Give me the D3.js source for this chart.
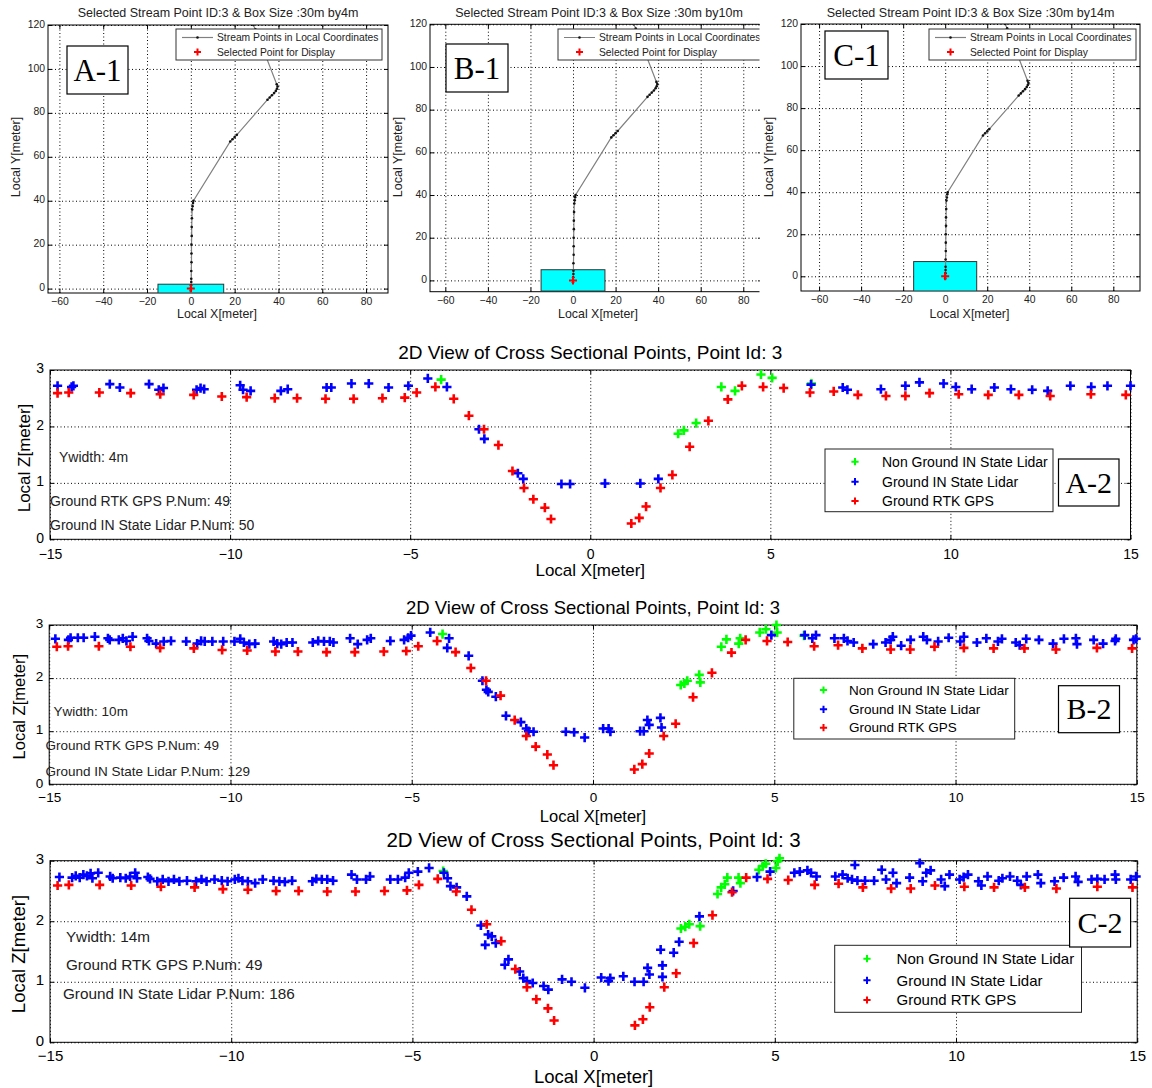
<!DOCTYPE html>
<html>
<head>
<meta charset="utf-8">
<script src="https://cdnjs.cloudflare.com/ajax/libs/d3/7.8.5/d3.min.js"></script>
<style>
  body { margin: 0; background: #fff; }
  svg { display: block; }
</style>
</head>
<body>
<svg id="fig" width="1152" height="1088"></svg>
<script>
// ---------- top row: stream points in local coordinates ----------
const streamX = [0, 0, 0.1, 0.2, 0.2, 0.2, 0.3, 0.3, 0.3, 0.4, 0.4, 0.5, 0.6, 0.8, 1.0, 1.2, 18, 19, 20, 21, 35, 36, 37, 38, 38.8, 39.3, 39.6, 39.2, 29.5, 28.5, 27.8];
const streamY = [-1, 0, 1.5, 3, 4.5, 8, 12, 16, 20, 24, 28, 32, 36, 37.5, 39, 40, 67, 68, 69, 70, 86, 87, 88, 89, 90, 91, 92, 93, 118, 120, 122];
const selectedPoint = [0, 0];
const boxLength = 30;
const boxWidths = [4, 10, 14];
const topXTicks = [-60, -40, -20, 0, 20, 40, 60, 80];
const topYTicks = [0, 20, 40, 60, 80, 100, 120];
const topLegend = ["Stream Points in Local Coordinates", "Selected Point for Display"];

// ---------- bottom rows: cross section points (x, z) ----------
const gpsPts = [[-14.79,2.59],[-14.48,2.60],[-13.63,2.60],[-12.76,2.59],[-11.94,2.57],[-11.01,2.56],[-10.23,2.53],[-9.54,2.52],[-8.76,2.50],[-8.14,2.50],[-7.35,2.49],[-6.57,2.49],[-5.77,2.50],[-5.15,2.51],[-4.82,2.60],[-4.30,2.70],[-3.79,2.49],[-3.37,2.19],[-2.95,1.95],[-2.55,1.67],[-2.16,1.21],[-1.84,0.91],[-1.58,0.71],[-1.26,0.56],[-1.09,0.36],
  [1.14,0.28],[1.36,0.38],[1.55,0.58],[1.95,0.91],[2.28,1.14],[2.76,1.64],[3.28,2.10],[3.82,2.48],[4.21,2.72],[4.80,2.70],[5.37,2.68],[6.10,2.60],[6.76,2.62],[7.43,2.56],[8.21,2.54],[8.75,2.54],[9.42,2.59],[10.23,2.57],[11.05,2.56],[11.90,2.56],[12.77,2.54],[13.90,2.57],[14.87,2.56]];

const lidarA = [[-14.79,2.72],[-14.40,2.70],[-14.35,2.72],[-13.34,2.75],[-13.06,2.69],[-12.25,2.75],[-11.98,2.65],[-11.85,2.68],[-10.93,2.65],[-10.82,2.68],[-10.72,2.66],[-9.72,2.73],[-9.64,2.65],[-9.43,2.63],[-8.59,2.63],[-8.40,2.66],[-7.32,2.69],[-7.19,2.69],[-6.63,2.76],[-6.15,2.76],[-5.60,2.69],[-5.05,2.72],[-4.51,2.85],[-3.98,2.70],[-3.09,1.95],[-2.94,1.78],[-2.01,1.17],[-1.86,1.07],[-0.80,0.98],[-0.56,0.98],[0.41,0.99],[1.39,0.99],[1.89,1.07],[6.13,2.74],[7.01,2.69],[7.14,2.65],[8.07,2.66],[8.75,2.72],[9.14,2.78],[9.81,2.76],[10.15,2.70],[10.59,2.66],[11.22,2.69],[11.68,2.66],[12.27,2.65],[12.70,2.63],[13.33,2.72],[13.91,2.70],[14.36,2.72],[15.0,2.72]];
const nonGroundA = [[-4.14,2.83],[2.44,1.87],[2.60,1.93],[2.94,2.06],[3.64,2.70],[4.02,2.63],[4.74,2.92],[5.05,2.86],[6.14,2.76]];

const lidarB = [[-14.83,2.74],[-14.47,2.72],[-14.41,2.76],[-14.21,2.76],[-14.05,2.76],[-13.74,2.78],[-13.38,2.75],[-13.33,2.72],[-13.08,2.72],[-12.97,2.75],[-12.87,2.70],[-12.70,2.78],[-12.30,2.75],[-12.25,2.70],[-12.05,2.65],[-11.84,2.69],[-11.64,2.70],[-11.22,2.69],[-10.92,2.65],[-10.81,2.70],[-10.71,2.69],[-10.50,2.69],[-10.20,2.69],[-9.89,2.69],[-9.73,2.74],[-9.63,2.67],[-9.48,2.64],[-9.32,2.65],[-8.81,2.69],[-8.71,2.65],[-8.60,2.64],[-8.45,2.67],[-8.29,2.67],[-7.73,2.67],[-7.58,2.70],[-7.42,2.69],[-7.26,2.69],[-7.16,2.67],[-6.70,2.75],[-6.49,2.64],[-6.23,2.72],[-6.13,2.75],[-5.59,2.70],[-5.21,2.72],[-5.10,2.76],[-5.02,2.80],[-4.49,2.86],[-3.97,2.75],[-4.02,2.57],[-3.43,2.42],[-3.05,1.95],[-2.94,1.78],[-2.89,1.74],[-2.68,1.65],[-2.40,1.29],[-1.99,1.17],[-1.84,1.05],[-1.78,1.00],[-1.64,0.99],[-0.75,0.99],[-0.52,0.98],[-0.23,0.88],[0.28,1.05],[0.48,0.99],[0.43,1.05],[1.30,1.00],[1.40,1.00],[1.50,1.21],[1.55,1.12],[1.86,1.25],[1.89,1.07],[4.92,2.81],[5.84,2.81],[6.05,2.75],[6.15,2.81],[6.66,2.75],[6.92,2.75],[7.02,2.70],[7.19,2.67],[7.73,2.64],[8.07,2.67],[8.21,2.72],[8.27,2.78],[8.50,2.61],[8.76,2.72],[9.11,2.78],[9.21,2.72],[9.52,2.69],[9.81,2.76],[10.13,2.69],[10.23,2.78],[10.59,2.67],[10.85,2.75],[11.17,2.69],[11.28,2.74],[11.66,2.67],[11.77,2.62],[11.95,2.74],[12.30,2.72],[12.69,2.65],[12.99,2.74],[13.32,2.75],[13.35,2.64],[13.81,2.72],[14.07,2.65],[14.40,2.70],[14.42,2.74],[14.91,2.72],[14.98,2.74]];
const nonGroundB = [[-4.15,2.83],[2.42,1.87],[2.52,1.90],[2.60,1.95],[2.93,2.06],[2.96,1.92],[3.54,2.59],[3.68,2.73],[4.02,2.65],[4.06,2.75],[4.60,2.86],[4.77,2.92],[5.06,3.0],[5.08,2.86],[5.82,2.80]];

const lidarC = [[-14.74,2.73],[-14.39,2.72],[-14.29,2.75],[-14.18,2.72],[-14.08,2.77],[-13.98,2.75],[-13.88,2.79],[-13.83,2.71],[-13.67,2.80],[-13.34,2.74],[-13.27,2.71],[-13.06,2.72],[-12.91,2.71],[-12.79,2.74],[-12.65,2.80],[-12.60,2.71],[-12.30,2.73],[-12.24,2.70],[-12.04,2.66],[-11.89,2.69],[-11.73,2.66],[-11.58,2.69],[-11.43,2.66],[-11.22,2.67],[-10.97,2.66],[-10.82,2.69],[-10.68,2.66],[-10.46,2.69],[-10.26,2.67],[-10.10,2.66],[-9.90,2.69],[-9.80,2.71],[-9.69,2.67],[-9.54,2.66],[-9.34,2.63],[-9.13,2.69],[-8.83,2.67],[-8.67,2.66],[-8.52,2.65],[-8.32,2.67],[-7.76,2.66],[-7.65,2.70],[-7.50,2.69],[-7.35,2.69],[-7.19,2.67],[-6.68,2.77],[-6.53,2.69],[-6.28,2.69],[-6.17,2.74],[-5.61,2.69],[-5.40,2.69],[-5.20,2.72],[-5.10,2.80],[-4.85,2.82],[-4.54,2.88],[-4.13,2.80],[-4.03,2.71],[-3.95,2.58],[-3.78,2.56],[-3.50,2.41],[-3.11,1.93],[-2.99,1.61],[-2.91,1.78],[-2.81,1.75],[-2.70,1.64],[-2.45,1.28],[-2.35,1.37],[-2.04,1.17],[-1.94,1.06],[-1.84,1.01],[-1.68,0.98],[-1.38,0.93],[-1.25,0.87],[-0.87,1.04],[-0.61,1.00],[-0.24,0.90],[0.21,1.07],[0.41,1.01],[0.46,1.06],[0.82,1.09],[1.13,1.00],[1.38,1.00],[1.49,1.23],[1.54,1.12],[1.85,1.53],[1.90,1.27],[1.90,1.08],[2.21,1.48],[2.36,1.66],[2.92,2.08],[3.85,2.50],[4.51,2.73],[4.87,2.82],[5.54,2.80],[5.69,2.82],[5.90,2.84],[6.00,2.80],[6.15,2.74],[6.67,2.74],[6.87,2.77],[7.01,2.71],[7.13,2.69],[7.21,2.93],[7.28,2.67],[7.49,2.67],[7.74,2.67],[7.95,2.85],[8.07,2.69],[8.26,2.80],[8.36,2.63],[8.72,2.72],[9.00,2.96],[9.08,2.66],[9.18,2.80],[9.30,2.84],[9.59,2.69],[9.69,2.58],[9.82,2.77],[10.10,2.69],[10.21,2.73],[10.33,2.77],[10.62,2.66],[10.70,2.59],[10.87,2.74],[11.18,2.67],[11.28,2.71],[11.49,2.74],[11.69,2.67],[11.79,2.60],[11.95,2.74],[12.26,2.77],[12.34,2.63],[12.72,2.66],[12.97,2.72],[13.30,2.74],[13.37,2.65],[13.74,2.69],[13.90,2.70],[14.10,2.69],[14.39,2.77],[14.41,2.69],[14.82,2.69],[14.97,2.74]];
const nonGroundC = [[-4.15,2.83],[2.41,1.88],[2.53,1.91],[2.64,1.95],[2.94,1.92],[3.42,2.45],[3.52,2.56],[3.62,2.61],[3.69,2.72],[4.00,2.72],[4.05,2.63],[4.56,2.85],[4.67,2.91],[4.75,2.95],[5.03,2.88],[5.08,2.99],[5.13,3.04]];

const gpsCount = 49;
const lidarCounts = [50, 129, 186];
const crossXTicks = [-15, -10, -5, 0, 5, 10, 15];
const crossYTicks = [0, 1, 2, 3];
const seriesNames = ["Non Ground IN State Lidar", "Ground IN State Lidar", "Ground RTK GPS"];
const seriesColors = ["#00ff00", "#0000ff", "#ff0000"];

// ---------- layout ----------
const FONT = "'Liberation Sans', Arial, Helvetica, sans-serif";
const SERIF = "'Liberation Serif', 'Times New Roman', serif";
const svg = d3.select("#fig");
svg.append("rect").attr("width", 1152).attr("height", 1088).attr("fill", "#fff");

const topLayout = [
  { tag: "A-1", x0: 48, x1: 388, y0: 25, y1: 293, xd: [-65.2, 90], yd: [-2, 120], cut: 1152, tagBox: [67, 46, 61, 48], leg: [176, 29, 206, 31], ylabX: 15 },
  { tag: "B-1", x0: 430, x1: 762, y0: 24.3, y1: 291.7, xd: [-67.2, 88.8], yd: [-5.3, 120], cut: 759.5, tagBox: [446, 44, 62, 48], leg: [558, 29, 215, 31], ylabX: 397 },
  { tag: "C-1", x0: 801, x1: 1140, y0: 24, y1: 291, xd: [-68.6, 92.7], yd: [-7, 120], cut: 1152, tagBox: [825, 31, 63, 48], leg: [929, 29, 207, 31], ylabX: 768 }
];

const crossLayout = [
  { tag: "A-2", series: [nonGroundA, lidarA, gpsPts], x0: 50, x1: 1130.5, y0: 370, y1: 539.3, titleY: 352, xlabY: 570, ylabX: 24, ylabY: 458,
    fs: { title: 19, label: 17, tick: 14, legend: 14, note: 14 }, pad: 9.5,
    notes: [[59, 457.3], [50, 500.7], [50, 525]], leg: [825, 449, 228, 62.7], legRows: [461.7, 481.7, 501], legMarkX: 855, legTextX: 882, tagBox: [1058.5, 459, 60.5, 47] },
  { tag: "B-2", series: [nonGroundB, lidarB, gpsPts], x0: 49.2, x1: 1136.8, y0: 625, y1: 784.3, titleY: 607.3, xlabY: 816.7, ylabX: 19, ylabY: 706.7,
    fs: { title: 18.5, label: 16.5, tick: 13.5, legend: 13.5, note: 13.5 }, pad: 8.5,
    notes: [[53.6, 711], [45.5, 745], [45.5, 771]], leg: [793.8, 678.3, 220.9, 60.7], legRows: [690, 709.3, 727.7], legMarkX: 823.5, legTextX: 849, tagBox: [1058.5, 685.7, 61, 47] },
  { tag: "C-2", series: [nonGroundC, lidarC, gpsPts], x0: 50, x1: 1137.2, y0: 860.7, y1: 1042.3, titleY: 840.3, xlabY: 1076.3, ylabX: 19, ylabY: 954,
    fs: { title: 20.5, label: 18.5, tick: 15, legend: 15, note: 15.3 }, pad: 8,
    notes: [[65.9, 936.3], [65.9, 964.7], [62.9, 993.7]], leg: [834.7, 945.3, 246.8, 67], legRows: [958.7, 980.3, 1000], legMarkX: 867, legTextX: 896.6, tagBox: [1069.6, 898.3, 61, 48.7] }
];

const plus = s => `M${-s},0H${s}M0,${-s}V${s}`;
const fmt = d3.format("d");

// dotted grid + inward ticks + labels + frame
function axes(g, x, y, L, xt, yt, fs, padX, padY, color) {
  const w = L.x1 - L.x0, h = L.y1 - L.y0;
  const gx = g.append("g").attr("transform", `translate(0,${L.y1})`)
    .call(d3.axisBottom(x).tickValues(xt).tickSize(-h).tickFormat(""));
  const gy = g.append("g").attr("transform", `translate(${L.x0},0)`)
    .call(d3.axisLeft(y).tickValues(yt).tickSize(-w).tickFormat(""));
  [gx, gy].forEach(s => {
    s.select(".domain").remove();
    s.selectAll("line").attr("stroke", "#000").attr("stroke-width", 1).attr("stroke-dasharray", "1,2.5");
  });

  const bx = g.append("g").attr("transform", `translate(0,${L.y1})`)
    .call(d3.axisBottom(x).tickValues(xt).tickFormat(fmt).tickSizeInner(-4).tickSizeOuter(0).tickPadding(padX));
  const tx = g.append("g").attr("transform", `translate(0,${L.y0})`)
    .call(d3.axisTop(x).tickValues(xt).tickSizeInner(-4).tickSizeOuter(0).tickFormat(""));
  const ly = g.append("g").attr("transform", `translate(${L.x0},0)`)
    .call(d3.axisLeft(y).tickValues(yt).tickFormat(fmt).tickSizeInner(-4).tickSizeOuter(0).tickPadding(padY));
  const ry = g.append("g").attr("transform", `translate(${L.x1},0)`)
    .call(d3.axisRight(y).tickValues(yt).tickSizeInner(-4).tickSizeOuter(0).tickFormat(""));
  [bx, tx, ly, ry].forEach(s => {
    s.attr("font-family", FONT).attr("font-size", fs);
    s.select(".domain").remove();
    s.selectAll("line").attr("stroke", "#000");
    s.selectAll("text").attr("fill", color);
  });
  // lift the y labels a touch so the corner "0" clears the first x label
  ly.selectAll("text").attr("dy", "0.2em");

  g.append("rect").attr("x", L.x0).attr("y", L.y0).attr("width", w).attr("height", h)
    .attr("fill", "none").attr("stroke", "#000").attr("stroke-width", 1);
}

function tagBox(g, b, text, size) {
  g.append("rect").attr("x", b[0]).attr("y", b[1]).attr("width", b[2]).attr("height", b[3])
    .attr("fill", "#fff").attr("stroke", "#000").attr("stroke-width", 1.2);
  g.append("text").attr("x", b[0] + b[2] / 2).attr("y", b[1] + b[3] / 2 + size * 0.34)
    .attr("text-anchor", "middle").attr("font-family", SERIF).attr("font-size", size)
    .attr("fill", "#000").text(text);
}

// ---------- top panels ----------
const streamPts = streamX.map((v, k) => [v, streamY[k]]);

topLayout.forEach((L, i) => {
  svg.append("clipPath").attr("id", `cut${i}`).append("rect")
    .attr("x", 0).attr("y", 0).attr("width", L.cut).attr("height", 1088);
  svg.append("clipPath").attr("id", `plot${i}`).append("rect")
    .attr("x", L.x0).attr("y", L.y0).attr("width", L.x1 - L.x0).attr("height", L.y1 - L.y0);

  const g = svg.append("g").attr("clip-path", `url(#cut${i})`).attr("font-family", FONT);
  const x = d3.scaleLinear().domain(L.xd).range([L.x0, L.x1]);
  const y = d3.scaleLinear().domain(L.yd).range([L.y1, L.y0]);

  axes(g, x, y, L, topXTicks, topYTicks, 10.4, 5, 3, "#222");

  const inner = g.append("g").attr("clip-path", `url(#plot${i})`);
  const half = boxWidths[i] / 2;
  inner.append("rect")
    .attr("x", x(-boxLength / 2)).attr("y", y(half))
    .attr("width", x(boxLength / 2) - x(-boxLength / 2)).attr("height", y(-half) - y(half))
    .attr("fill", "#00ffff").attr("stroke", "#333").attr("stroke-width", 1);

  inner.append("path").datum(streamPts)
    .attr("d", d3.line().x(d => x(d[0])).y(d => y(d[1])))
    .attr("fill", "none").attr("stroke", "#808080").attr("stroke-width", 1.2);
  inner.selectAll("circle.sp").data(streamPts).join("circle")
    .attr("cx", d => x(d[0])).attr("cy", d => y(d[1])).attr("r", 1.3).attr("fill", "#111");
  inner.append("path").attr("d", plus(4))
    .attr("transform", `translate(${x(selectedPoint[0])},${y(selectedPoint[1])})`)
    .attr("stroke", "#ff0000").attr("stroke-width", 2);

  // title & axis labels
  const cx = (L.x0 + L.x1) / 2;
  const titleX = i === 1 ? 599 : cx;
  g.append("text").attr("x", titleX).attr("y", 16.5).attr("text-anchor", "middle")
    .attr("font-size", 12.5).attr("fill", "#222")
    .text(`Selected Stream Point ID:3 & Box Size :${boxLength}m by${boxWidths[i]}m`);
  g.append("text").attr("x", titleX - 1).attr("y", 317.5).attr("text-anchor", "middle")
    .attr("font-size", 12.4).attr("fill", "#222").text("Local X[meter]");
  g.append("text").attr("transform", `translate(${L.ylabX + 4.5},157) rotate(-90)`)
    .attr("text-anchor", "middle").attr("font-size", 12.5).attr("fill", "#222").text("Local Y[meter]");

  // legend
  const [lx, ly, lw, lh] = L.leg;
  g.append("rect").attr("x", lx).attr("y", ly).attr("width", lw).attr("height", lh)
    .attr("fill", "#fff").attr("stroke", "#333").attr("stroke-width", 1);
  g.append("line").attr("x1", lx + 6).attr("x2", lx + 37).attr("y1", ly + 8.5).attr("y2", ly + 8.5)
    .attr("stroke", "#808080").attr("stroke-width", 1.2);
  g.append("circle").attr("cx", lx + 21.5).attr("cy", ly + 8.5).attr("r", 1.3).attr("fill", "#111");
  g.append("path").attr("d", plus(3.5)).attr("transform", `translate(${lx + 21.5},${ly + 23})`)
    .attr("stroke", "#ff0000").attr("stroke-width", 2);
  topLegend.forEach((t, k) => {
    g.append("text").attr("x", lx + 41).attr("y", ly + 8.5 + k * 14.5 + 3.6)
      .attr("font-size", 10.3).attr("fill", "#222").text(t);
  });

  tagBox(g, L.tagBox, L.tag, 31);
});

// ---------- cross section panels ----------
crossLayout.forEach((L, i) => {
  const g = svg.append("g").attr("font-family", FONT);
  const x = d3.scaleLinear().domain([-15, 15]).range([L.x0, L.x1]);
  const y = d3.scaleLinear().domain([0, 3]).range([L.y1, L.y0]);

  axes(g, x, y, L, crossXTicks, crossYTicks, L.fs.tick, L.pad, 6, "#000");

  L.series.forEach((pts, s) => {
    g.append("g").selectAll("path").data(pts).join("path")
      .attr("d", plus(4.6))
      .attr("transform", d => `translate(${x(d[0])},${y(d[1])})`)
      .attr("stroke", seriesColors[s]).attr("stroke-width", 2.6);
  });

  const cx = (L.x0 + L.x1) / 2;
  g.append("text").attr("x", cx).attr("y", L.titleY + L.fs.title * 0.35).attr("text-anchor", "middle")
    .attr("font-size", L.fs.title).attr("fill", "#000")
    .text("2D View of Cross Sectional Points, Point Id: 3");
  g.append("text").attr("x", cx).attr("y", L.xlabY + L.fs.label * 0.35).attr("text-anchor", "middle")
    .attr("font-size", L.fs.label).attr("fill", "#000").text("Local X[meter]");
  g.append("text").attr("transform", `translate(${L.ylabX + L.fs.label * 0.35},${L.ylabY}) rotate(-90)`)
    .attr("text-anchor", "middle").attr("font-size", L.fs.label).attr("fill", "#000").text("Local Z[meter]");

  const notes = [`Ywidth: ${boxWidths[i]}m`, `Ground RTK GPS P.Num: ${gpsCount}`, `Ground IN State Lidar P.Num: ${lidarCounts[i]}`];
  notes.forEach((t, k) => {
    g.append("text").attr("x", L.notes[k][0]).attr("y", L.notes[k][1] + L.fs.note * 0.35)
      .attr("font-size", L.fs.note).attr("fill", "#222").text(t);
  });

  const [lx, ly, lw, lh] = L.leg;
  g.append("rect").attr("x", lx).attr("y", ly).attr("width", lw).attr("height", lh)
    .attr("fill", "#fff").attr("stroke", "#222").attr("stroke-width", 1);
  seriesNames.forEach((name, k) => {
    g.append("path").attr("d", plus(3.6))
      .attr("transform", `translate(${L.legMarkX},${L.legRows[k]})`)
      .attr("stroke", seriesColors[k]).attr("stroke-width", 2);
    g.append("text").attr("x", L.legTextX).attr("y", L.legRows[k] + L.fs.legend * 0.35)
      .attr("font-size", L.fs.legend).attr("fill", "#000").text(name);
  });

  tagBox(g, L.tagBox, L.tag, 30);
});
</script>
</body>
</html>
